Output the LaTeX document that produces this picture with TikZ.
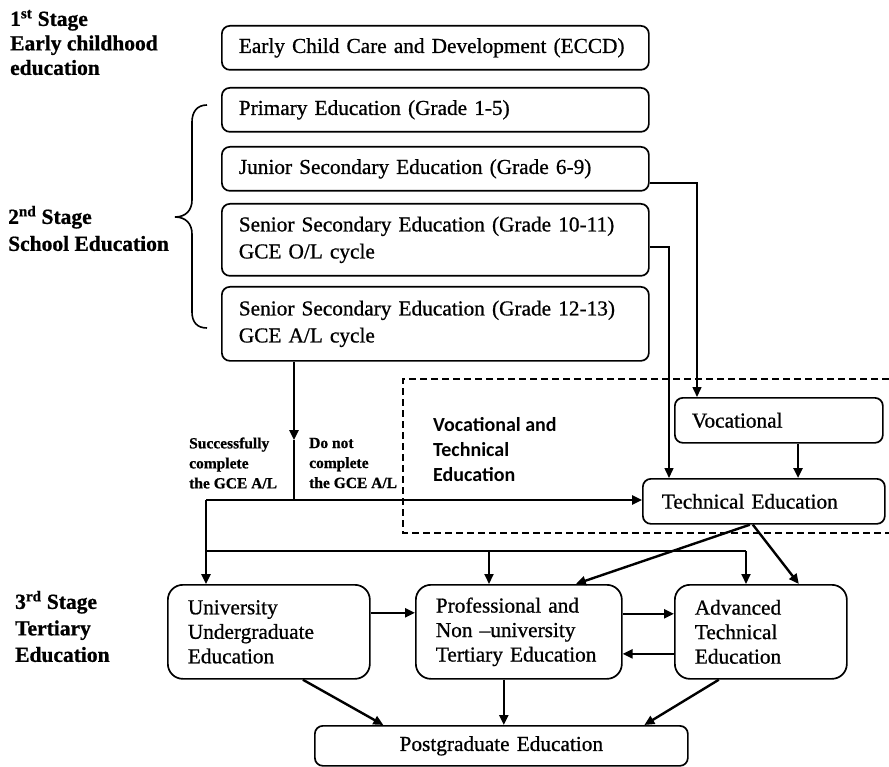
\documentclass[tikz,border=0pt]{standalone}
\usepackage{fontspec}
\setmainfont{Liberation Serif}[FakeBold=0.8]
\newfontfamily\calfont{Carlito}
\usetikzlibrary{arrows.meta}
\begin{document}
\begin{tikzpicture}[x=1pt,y=-1pt,
  box/.style={draw, line width=1.7pt, rounded corners=8pt, anchor=north west, inner xsep=17pt, inner ysep=0pt, align=left, font=\fontsize{21.3}{27}\selectfont},
  tbox/.style={box, rounded corners=15pt, inner xsep=20pt, font=\fontsize{21.3}{24.5}\selectfont},
  stage/.style={anchor=west, align=left, inner sep=0pt, font=\bfseries\fontsize{21.5}{24.5}\selectfont},
  small/.style={anchor=west, align=left, inner sep=0pt, font=\bfseries\fontsize{15.5}{20}\selectfont},
  thk/.style={line width=2.4pt},
  thn/.style={line width=1.5pt},
  arr/.style={-{Triangle[length=10pt,width=9pt]}},
]
\useasboundingbox (0,0) rectangle (889,767);

% left stage labels
\node[stage] (s1) at (10,42.5) {1\textsuperscript{st} Stage\\Early childhood\\education};
\node[stage, font=\bfseries\fontsize{21.5}{27}\selectfont] (s2) at (8,228.5) {2\textsuperscript{nd} Stage\\School Education};
\node[stage, font=\bfseries\fontsize{21.5}{26.5}\selectfont] (s3) at (15,626.5) {3\textsuperscript{rd} Stage\\Tertiary\\Education};

% brace
\draw[line width=1.6pt] (207,105) .. controls (197,105) and (192,112) .. (192,122) -- (192,200)
  .. controls (192,210) and (186,217) .. (175,217) .. controls (186,217) and (192,224) .. (192,234)
  -- (192,312) .. controls (192,322) and (197,328) .. (207,328);

% stage 1 and 2 boxes
\node[box, text width=393pt, minimum height=44pt] (eccd) at (221,25) {Early Child Care and Development (ECCD)};
\node[box, text width=393pt, minimum height=44pt] (prim) at (221,87) {Primary Education (Grade 1-5)};
\node[box, text width=393pt, minimum height=44pt] (jun) at (221,146) {Junior Secondary Education (Grade 6-9)};
\node[box, text width=393pt, minimum height=72pt] (ol) at (221,203) {Senior Secondary Education (Grade 10-11)\\GCE O/L cycle};
\node[box, text width=393pt, minimum height=74pt] (al) at (221,286) {Senior Secondary Education (Grade 12-13)\\GCE A/L cycle};

% vocational and technical
\draw[line width=1.8pt, dash pattern=on 7pt off 4pt] (889,379) -- (403,379) -- (403,533) -- (889,533);
\node[anchor=west, align=left, inner sep=0pt, font=\calfont\bfseries\fontsize{20}{25}\selectfont] (vtlabel) at (433,450) {Vocational and\\Technical\\Education};
\node[box, text width=174pt, minimum height=45pt] (voc) at (674,397) {Vocational};
\node[box, inner xsep=19pt, text width=204pt, minimum height=45pt] (tech) at (642,478) {Technical Education};

% tertiary
\node[tbox, text width=162pt, minimum height=94pt] (univ) at (167,584) {University\\Undergraduate\\Education};
\node[tbox, text width=166pt, minimum height=94pt] (prof) at (415,584) {Professional and\\Non --university\\Tertiary Education};
\node[tbox, text width=132pt, minimum height=94pt] (adv) at (674,584) {Advanced\\Technical\\Education};
\node[box, align=center, inner xsep=20pt, text width=333pt, minimum height=40pt] (post) at (314,725) {Postgraduate Education};

% decision labels
\node[small] (succ) at (189,463) {Successfully\\complete\\the GCE A/L};
\node[small] (dnc) at (309,463) {Do not\\complete\\the GCE A/L};

% coordinates for bends
\coordinate (c1) at (294,440);
\coordinate (c2) at (294,500);
\coordinate (c3) at (206,500);
\coordinate (c4) at (206,551);
\coordinate (c5) at (746,551);
\coordinate (c6) at (489,551);
\coordinate (j1) at (697,183);
\coordinate (o1) at (669,247);
\coordinate (v1) at (798,442);

% connectors
\draw[thk, arr] (al.south -| c1) -- (c1);
\draw[thn] (c1) -- (c2);
\draw[thk, arr] (c2) -- (tech.west |- c2);
\draw[thn] (c3) -- (c2);
\draw[thk, arr] (c3) -- (univ.north -| c3);
\draw[thn] (c4) -- (c5);
\draw[line width=1.9pt, arr] (c6) -- (prof.north -| c6);
\draw[line width=1.9pt, arr] (c5) -- (adv.north -| c5);

\draw[thn, arr] (jun.east |- j1) -- (j1) -- (voc.north -| j1);
\draw[thn, arr] (ol.east |- o1) -- (o1) -- (tech.north -| o1);
\draw[thk, arr] (voc.south -| v1) -- (tech.north -| v1);

\draw[thk, arr] ([xshift=-14pt]tech.south) -- ([xshift=57pt]prof.north);
\draw[thk, arr] ([xshift=-11pt]tech.south) -- ([xshift=38pt]adv.north);

\draw[thk, arr] ([yshift=19pt]univ.east) -- ([yshift=19pt]prof.west);
\draw[thk, arr] ([yshift=18pt]prof.east) -- ([yshift=18pt]adv.west);
\draw[thk, arr] ([yshift=-22pt]adv.west) -- ([yshift=-22pt]prof.east);

\draw[thk, arr] ([xshift=34pt]univ.south) -- ([xshift=-118pt]post.north);
\draw[thk, arr] ([xshift=-15pt]prof.south) -- ([xshift=-15pt]prof.south |- post.north);
\draw[thk, arr] ([xshift=-42pt]adv.south) -- ([xshift=143pt]post.north);
\end{tikzpicture}
\end{document}
